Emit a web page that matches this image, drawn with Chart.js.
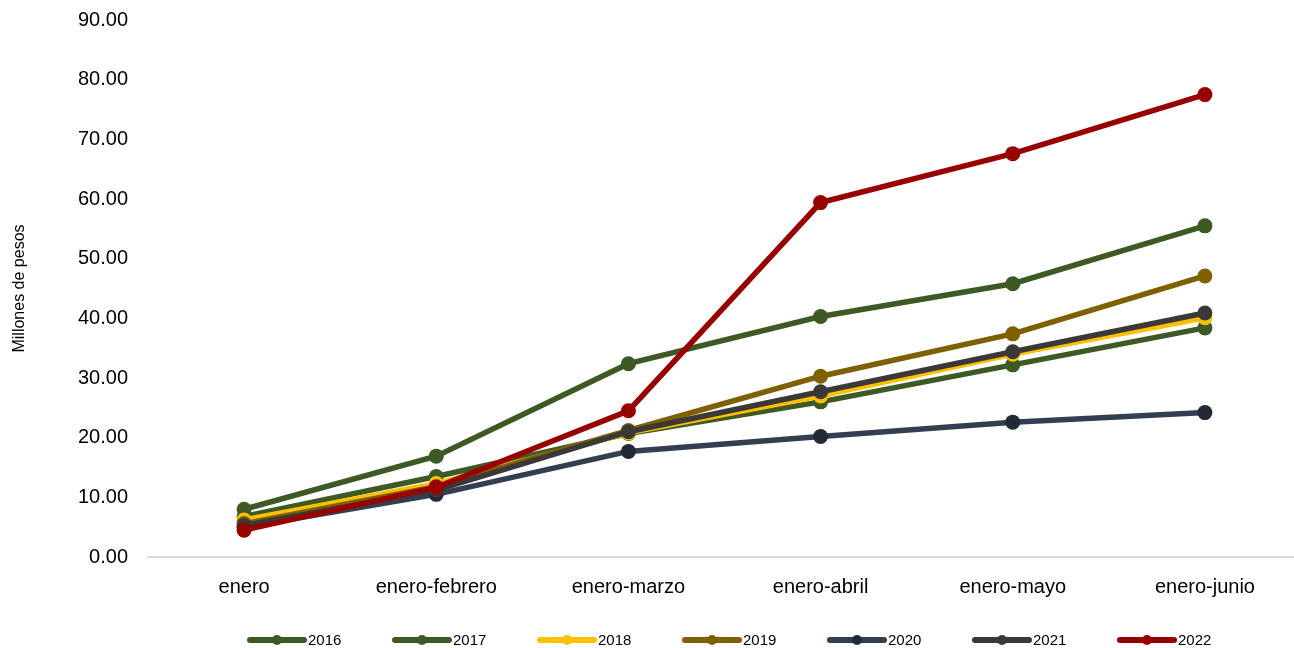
<!DOCTYPE html>
<html>
<head>
<meta charset="utf-8">
<script src="https://cdn.jsdelivr.net/npm/chart.js@4.4.1/dist/chart.umd.min.js"></script>
<style>
    html, body { margin: 0; padding: 0; background: #fff; overflow: hidden; }
    #wrap { position: absolute; left: 0; top: -4px; width: 1310px; height: 652px; }
</style>
</head>
<body>
<div id="wrap"><canvas id="chart" width="1310" height="652"></canvas></div>
<script>
// Data
const categories = ['enero', 'enero-febrero', 'enero-marzo', 'enero-abril', 'enero-mayo', 'enero-junio'];
const years = ['2016', '2017', '2018', '2019', '2020', '2021', '2022'];
const values2016 = [6.8, 13.5, 20.7, 26.0, 32.2, 38.4];
const values2017 = [8.0, 16.9, 32.4, 40.3, 45.8, 55.5];
const values2018 = [6.2, 12.3, 20.8, 27.0, 34.0, 40.1];
const values2019 = [5.6, 11.8, 21.2, 30.3, 37.4, 47.1];
const values2020 = [5.0, 10.5, 17.7, 20.2, 22.6, 24.2];
const values2021 = [5.3, 11.2, 21.0, 27.7, 34.4, 40.9];
const values2022 = [4.5, 11.7, 24.5, 59.4, 67.6, 77.5];
const yTicks = [0, 10, 20, 30, 40, 50, 60, 70, 80, 90];

const series = [values2016, values2017, values2018, values2019, values2020, values2021, values2022];
const lineColors = ['#3d5a24', '#3d5a24', '#ffc000', '#7f6000', '#333f50', '#3b3838', '#990000'];
const dotColors  = ['#3d5a24', '#3d5a24', '#ffc000', '#7f6000', '#222a35', '#3b3838', '#990000'];

const datasets = series.map((vals, i) => ({
    label: years[i],
    data: vals,
    borderColor: lineColors[i],
    backgroundColor: dotColors[i],
    pointBackgroundColor: dotColors[i],
    pointBorderColor: dotColors[i],
    borderWidth: 5.5,
    pointRadius: 7.5,
    pointBorderWidth: 0,
    tension: 0,
    order: series.length - i
}));

// legend drawn as line + dot, like the original
const lineLegend = {
    id: 'lineLegend',
    afterDraw(chart) {
        const c = chart.ctx;
        c.save();
        c.font = '15px "Liberation Sans", Arial, sans-serif';
        c.textBaseline = 'middle';
        c.textAlign = 'left';
        chart.data.datasets.forEach((ds, i) => {
            const x0 = 250 + 145 * i;
            const y = 644;
            c.strokeStyle = ds.borderColor;
            c.lineWidth = 6;
            c.lineCap = 'round';
            c.beginPath();
            c.moveTo(x0, y);
            c.lineTo(x0 + 54, y);
            c.stroke();
            c.fillStyle = ds.pointBackgroundColor;
            c.beginPath();
            c.arc(x0 + 27, y, 5, 0, Math.PI * 2);
            c.fill();
            c.fillStyle = '#000';
            c.fillText(ds.label, x0 + 58, y + 1);
        });
        c.restore();
    }
};

new Chart(document.getElementById('chart'), {
    type: 'line',
    data: { labels: categories, datasets: datasets },
    plugins: [lineLegend],
    options: {
        responsive: false,
        animation: false,
        layout: { padding: { top: 2, right: 9, bottom: 0, left: 0 } },
        plugins: {
            legend: { display: false },
            tooltip: { enabled: false }
        },
        scales: {
            x: {
                offset: true,
                grid: { display: false },
                border: { display: true, color: '#d9d9d9', width: 2 },
                ticks: {
                    color: '#000',
                    font: { family: '"Liberation Sans", Arial, sans-serif', size: 20 },
                    padding: 10,
                    maxRotation: 0
                },
                afterFit(scale) { scale.height = 91; }
            },
            y: {
                min: 0,
                max: 90,
                grid: { display: false },
                border: { display: false },
                afterBuildTicks(scale) { scale.ticks = yTicks.map(v => ({ value: v })); },
                ticks: {
                    color: '#000',
                    font: { family: '"Liberation Sans", Arial, sans-serif', size: 20 },
                    padding: 12,
                    callback: v => v.toFixed(2)
                },
                title: {
                    display: true,
                    text: 'Millones de pesos',
                    color: '#000',
                    font: { family: '"Liberation Sans", Arial, sans-serif', size: 16 },
                    padding: { top: 10, bottom: 0 }
                },
                afterFit(scale) { scale.width = 148; }
            }
        }
    }
});
</script>
</body>
</html>
